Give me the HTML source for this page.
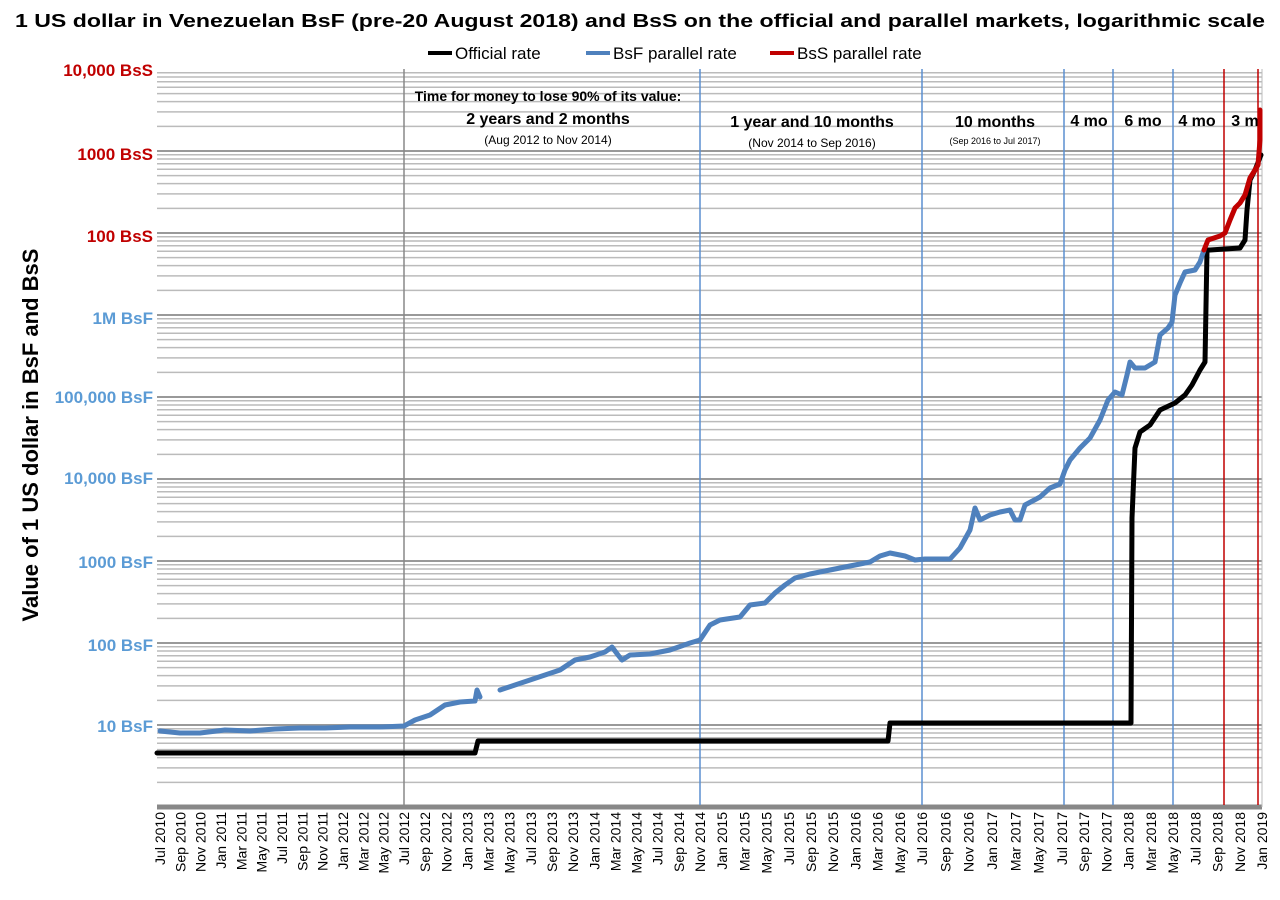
<!DOCTYPE html>
<html><head><meta charset="utf-8"><style>
body{margin:0;background:#fff;width:1280px;height:900px;overflow:hidden}
svg{display:block;font-family:"Liberation Sans",sans-serif}
</style></head><body>
<svg id="s" width="1280" height="900" xmlns="http://www.w3.org/2000/svg">
<g id="grid"></g>
<text x="640" y="27" text-anchor="middle" font-size="18" font-weight="bold" textLength="1250" lengthAdjust="spacingAndGlyphs">1 US dollar in Venezuelan BsF (pre-20 August 2018) and BsS on the official and parallel markets, logarithmic scale</text>
<line x1="428" y1="53" x2="452" y2="53" stroke="#000" stroke-width="4"/><text x="455" y="59" font-size="17">Official rate</text>
<line x1="586" y1="53" x2="610" y2="53" stroke="#4f81bd" stroke-width="4"/><text x="613" y="59" font-size="17">BsF parallel rate</text>
<line x1="770" y1="53" x2="794" y2="53" stroke="#c00000" stroke-width="4"/><text x="797" y="59" font-size="17">BsS parallel rate</text>
<g font-weight="bold" font-size="17" text-anchor="end">
<text x="153" y="76" fill="#c00000">10,000 BsS</text>
<text x="153" y="160" fill="#c00000">1000 BsS</text>
<text x="153" y="242" fill="#c00000">100 BsS</text>
<text x="153" y="324" fill="#5b9bd5">1M BsF</text>
<text x="153" y="403" fill="#5b9bd5">100,000 BsF</text>
<text x="153" y="484" fill="#5b9bd5">10,000 BsF</text>
<text x="153" y="568" fill="#5b9bd5">1000 BsF</text>
<text x="153" y="651" fill="#5b9bd5">100 BsF</text>
<text x="153" y="732" fill="#5b9bd5">10 BsF</text>
</g>
<text transform="translate(38,435) rotate(-90)" text-anchor="middle" font-size="22" font-weight="bold">Value of 1 US dollar in BsF and BsS</text>
<g text-anchor="middle" font-weight="bold">
<text x="548" y="101" font-size="14">Time for money to lose 90% of its value:</text>
<text x="548" y="124" font-size="16">2 years and 2 months</text>
<text x="548" y="144" font-size="12" font-weight="normal">(Aug 2012 to Nov 2014)</text>
<text x="812" y="127" font-size="16">1 year and 10 months</text>
<text x="812" y="147" font-size="12" font-weight="normal">(Nov 2014  to Sep 2016)</text>
<text x="995" y="127" font-size="16">10 months</text>
<text x="995" y="144" font-size="9" font-weight="normal">(Sep 2016 to Jul 2017)</text>
<text x="1089" y="126" font-size="16">4 mo</text>
<text x="1143" y="126" font-size="16">6 mo</text>
<text x="1197" y="126" font-size="16">4 mo</text>
<text x="1245" y="126" font-size="16">3 m</text>
</g>
<g fill="none" stroke-linejoin="round" stroke-linecap="round" stroke-width="5">
<polyline stroke="#000" points="157,753 475,753 478,741 888,741 890,723 1131,723 1132,518 1135,448 1140,432 1150,425 1160,410 1175,403 1185,395 1192,385 1200,370 1205,362 1207,250 1210,250 1240,248 1245,240 1247,210 1250,180 1255,170 1261,155"/>
<polyline stroke="#4f81bd" points="160,731 180,733 200,733 225,730 250,731 275,729 300,728 325,728 350,727 380,727 404,726 415,720 430,715 445,705 460,702 475,701 477,690 480,697"/>
<polyline stroke="#4f81bd" points="500,690 515,685 530,680 545,675 560,670 575,660 590,657 605,652 612,647 618,655 622,660 630,655 650,654 670,650 690,643 700,640 710,625 720,620 740,617 750,605 765,603 775,593 785,585 795,578 810,574 830,570 850,566 870,562 880,556 890,553 905,556 915,560 925,559 950,559 960,548 970,530 975,508 980,520 990,515 1000,512 1010,510 1015,520 1020,520 1025,505 1040,497 1050,488 1060,484 1065,470 1070,460 1080,448 1090,438 1100,420 1108,400 1115,392 1122,395 1127,375 1130,362 1135,368 1145,368 1155,362 1160,335 1168,328 1172,322 1175,295 1180,283 1185,272 1195,270 1200,262 1204,250"/>
<polyline stroke="#c00000" points="1204,250 1208,240 1220,236 1225,233 1230,220 1235,208 1240,203 1245,195 1250,178 1255,170 1258,165 1260,140 1260,110"/>
</g>
<g id="xl" font-size="14"></g>
</svg>
<script>
var g=document.getElementById('grid'),h='';
function L(x1,y1,x2,y2,c,w){h+='<line x1="'+x1+'" y1="'+y1+'" x2="'+x2+'" y2="'+y2+'" stroke="'+c+'" stroke-width="'+w+'"/>';}
for(var d=0;d<9;d++){var yb=807-82*d;for(var k=2;k<=9;k++){var y=yb-82*Math.log10(k);L(157,y,1262,y,'#bbb',1.5);}L(157,yb,1262,yb,d==0?'#888':'#999',d==0?5:2);}
L(1262,69,1262,807,'#bbb',1);
var V=[[404,'#888'],[700,'#5b8fd0'],[922,'#5b8fd0'],[1064,'#5b8fd0'],[1113,'#5b8fd0'],[1173,'#5b8fd0'],[1224,'#c00000'],[1258,'#c00000']];
V.forEach(function(v){L(v[0],69,v[0],805,v[1],1.5);});
g.innerHTML=h;
var A=[[0,160],[24,404],[52,700],[72,922],[84,1062],[102,1262]];
function X(m){for(var i=1;i<A.length;i++){if(m<=A[i][0]){var a=A[i-1],b=A[i];return a[1]+(m-a[0])*(b[1]-a[1])/(b[0]-a[0]);}}return 1262;}
var mn=['Jan','Feb','Mar','Apr','May','Jun','Jul','Aug','Sep','Oct','Nov','Dec'],t='';
for(var m=0;m<=102;m+=2){var mi=(6+m)%12,yr=2010+Math.floor((6+m)/12),x=X(m)+5;
t+='<text transform="translate('+x+',812) rotate(-90)" text-anchor="end">'+mn[mi]+' '+yr+'</text>';}
document.getElementById('xl').innerHTML=t;
</script>
</body></html>
